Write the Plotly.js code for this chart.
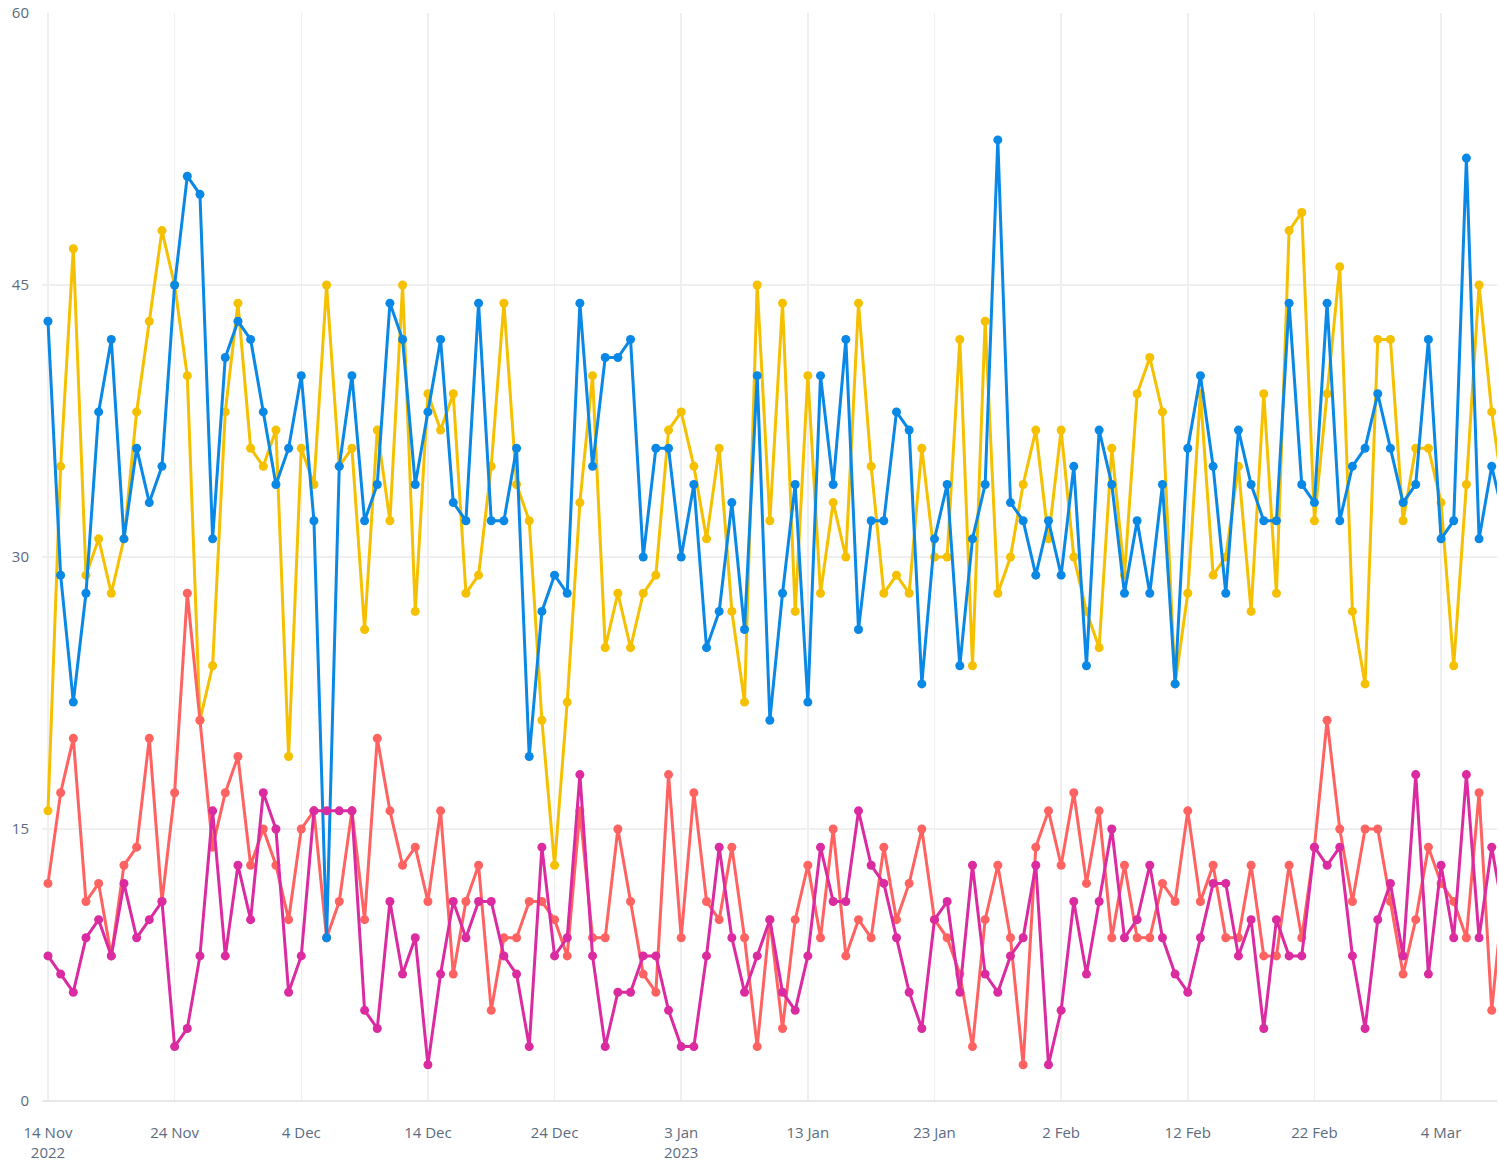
<!DOCTYPE html>
<html>
<head>
<meta charset="utf-8">
<script src="https://cdn.plot.ly/plotly-3.0.1.min.js"></script>
<style>html,body{margin:0;padding:0;background:#fff;}#chart{width:1499px;height:1163px;}</style>
</head>
<body>
<div id="chart"></div>
<script>
// Daily series starting 14 Nov 2022
const startDate = "2022-11-14";

const blueValues = [43,29,22,28,38,42,31,36,33,35,
  45,51,50,31,41,43,42,38,34,36,
  40,32,9,35,40,32,34,44,42,34,
  38,42,33,32,44,32,32,36,19,27,
  29,28,44,35,41,41,42,30,36,36,
  30,34,25,27,33,26,40,21,28,34,
  22,40,34,42,26,32,32,38,37,23,
  31,34,24,31,34,53,33,32,29,32,
  29,35,24,37,34,28,32,28,34,23,
  36,40,35,28,37,34,32,32,44,34,
  33,44,32,35,36,39,36,33,34,42,
  31,32,52,31,35,32];

const yellowValues = [16,35,47,29,31,28,31,38,43,48,
  45,40,21,24,38,44,36,35,37,19,
  36,34,45,35,36,26,37,32,45,27,
  39,37,39,28,29,35,44,34,32,21,
  13,22,33,40,25,28,25,28,29,37,
  38,35,31,36,27,22,45,32,44,27,
  40,28,33,30,44,35,28,29,28,36,
  30,30,42,24,43,28,30,34,37,31,
  37,30,27,25,36,29,39,41,38,23,
  28,39,29,30,35,27,39,28,48,49,
  32,39,46,27,23,42,42,32,36,36,
  33,24,34,45,38,33];

const coralValues = [12,17,20,11,12,8,13,14,20,11,
  17,28,21,14,17,19,13,15,13,10,
  15,16,9,11,16,10,20,16,13,14,
  11,16,7,11,13,5,9,9,11,11,
  10,8,16,9,9,15,11,7,6,18,
  9,17,11,10,14,9,3,10,4,10,
  13,9,15,8,10,9,14,10,12,15,
  10,9,7,3,10,13,9,2,14,16,
  13,17,12,16,9,13,9,9,12,11,
  16,11,13,9,9,13,8,8,13,9,
  14,21,15,11,15,15,11,7,10,14,
  12,11,9,17,5,12];

const magentaValues = [8,7,6,9,10,8,12,9,10,11,
  3,4,8,16,8,13,10,17,15,6,
  8,16,16,16,16,5,4,11,7,9,
  2,7,11,9,11,11,8,7,3,14,
  8,9,18,8,3,6,6,8,8,5,
  3,3,8,14,9,6,8,10,6,5,
  8,14,11,11,16,13,12,9,6,4,
  10,11,6,13,7,6,8,9,13,2,
  5,11,7,11,15,9,10,13,9,7,
  6,9,12,12,8,10,4,10,8,8,
  14,13,14,8,4,10,12,8,18,7,
  13,9,18,9,14,10];

const tickDates = ["2022-11-14","2022-11-24","2022-12-04","2022-12-14","2022-12-24","2023-01-03",
  "2023-01-13","2023-01-23","2023-02-02","2023-02-12","2023-02-22","2023-03-04"];
const tickLabels = ["14 Nov<br>2022","24 Nov","4 Dec","14 Dec","24 Dec","3 Jan<br>2023",
  "13 Jan","23 Jan","2 Feb","12 Feb","22 Feb","4 Mar"];
const yTicks = [0,15,30,45,60];

function buildDates(start, n){
  const out = [];
  const d0 = new Date(start + "T00:00:00Z");
  for (let i = 0; i < n; i++){
    const d = new Date(d0.getTime() + i*86400000);
    out.push(d.toISOString().slice(0,10));
  }
  return out;
}
const dates = buildDates(startDate, blueValues.length);

function series(vals, color){
  return {
    x: dates, y: vals, type: "scatter", mode: "lines+markers",
    line: {color: color, width: 3},
    marker: {color: color, size: 9},
    hoverinfo: "x+y"
  };
}

const data = [
  series(yellowValues, "#f5c000"),
  series(coralValues, "#ff6361"),
  series(blueValues, "#0a88e6"),
  series(magentaValues, "#db2ba0")
];

const layout = {
  width: 1499, height: 1163,
  margin: {l: 42, r: 2, t: 13, b: 62},
  paper_bgcolor: "#ffffff",
  plot_bgcolor: "#ffffff",
  showlegend: false,
  font: {family: "Open Sans, Noto Sans, sans-serif", size: 15, color: "#5b6b80"},
  xaxis: {
    type: "date",
    range: ["2022-11-13 12:40", "2023-03-08 10:00"],
    tickmode: "array", tickvals: tickDates, ticktext: tickLabels,
    showgrid: true, gridcolor: "#efefef", gridwidth: 1.5,
    zeroline: false, showline: false, ticks: "",
    ticklabelstandoff: 21,
    tickfont: {size: 15, color: "#5b6b80"}
  },
  yaxis: {
    range: [0, 60],
    tickmode: "array", tickvals: yTicks,
    showgrid: true, gridcolor: "#efefef", gridwidth: 1.5,
    zeroline: true, zerolinecolor: "#e8e8e8", zerolinewidth: 1.5,
    showline: false, ticks: "",
    ticklabelstandoff: 12,
    tickfont: {size: 15, color: "#5b6b80"}
  }
};

Plotly.newPlot("chart", data, layout, {displayModeBar: false, staticPlot: true});
</script>
</body>
</html>
